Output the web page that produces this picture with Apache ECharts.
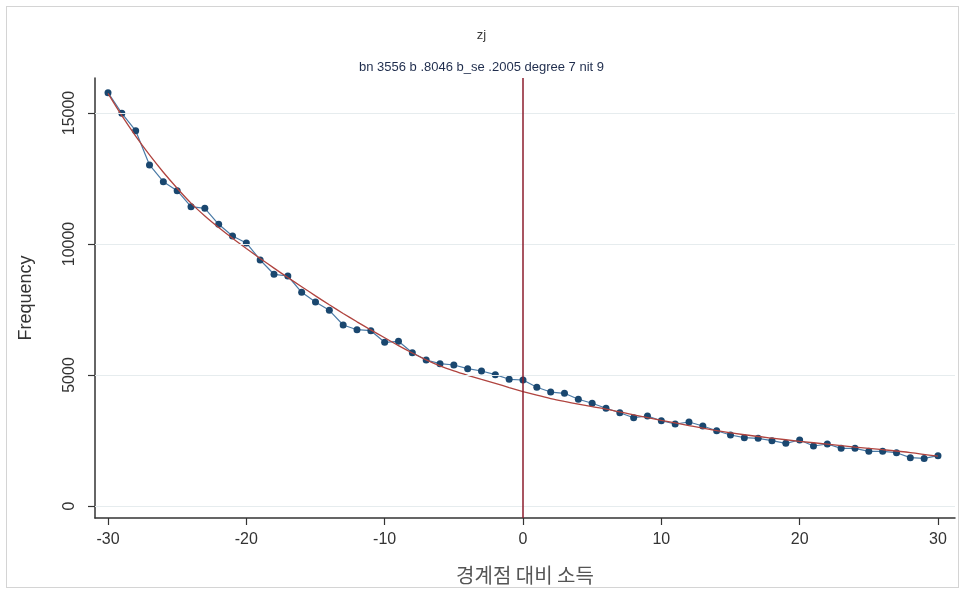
<!DOCTYPE html>
<html>
<head>
<meta charset="utf-8">
<script src="https://cdn.jsdelivr.net/npm/echarts@6/dist/echarts.min.js"></script>
<style>
html,body{margin:0;padding:0;background:#fff;}
#wrap{position:absolute;left:6px;top:6px;width:951px;height:580px;border:1px solid #d4d4d4;}
#chart{position:absolute;left:0;top:0;width:963px;height:592px;}
</style>
</head>
<body>
<div id="wrap"></div>
<div id="chart"></div>
<script>
// Bins (income relative to threshold)
const bins = [-30,-29,-28,-27,-26,-25,-24,-23,-22,-21,-20,-19,-18,-17,-16,-15,-14,-13,-12,-11,-10,-9,-8,-7,-6,-5,-4,-3,-2,-1,0,1,2,3,4,5,6,7,8,9,10,11,12,13,14,15,16,17,18,19,20,21,22,23,24,25,26,27,28,29,30];
// Observed frequency
const freq = [15776,14990,14326,13016,12379,12035,11425,11363,10752,10306,10040,9390,8844,8779,8157,7787,7470,6909,6729,6691,6248,6285,5852,5573,5432,5382,5241,5153,5012,4836,4809,4531,4350,4302,4073,3920,3729,3561,3370,3435,3256,3130,3206,3054,2874,2710,2607,2584,2492,2393,2519,2290,2367,2202,2202,2088,2088,2034,1844,1817,1920];
// Fitted polynomial curve
const fitX = [-30,-29,-28,-27,-26,-25,-24,-23,-22,-21,-20,-19,-18,-17,-16,-15,-14,-13,-12,-11,-10,-9,-8,-7,-6,-5,-4,-3,-2,-1,0,1,2,3,4,5,6,8,10,12,14,16,18,20,22,24,26,28,30];
const fitY = [15750,14900,14120,13400,12740,12130,11560,11070,10630,10220,9830,9450,9080,8720,8370,8020,7680,7350,7030,6720,6420,6120,5840,5580,5350,5160,4990,4830,4680,4520,4370,4230,4100,3990,3890,3790,3700,3480,3270,3070,2880,2720,2590,2470,2360,2250,2150,2040,1900];
const xTicks = [-30,-20,-10,0,10,20,30];
const yTicks = [0,5000,10000,15000];
const titleText = 'zj';
const subText = 'bn 3556 b .8046 b_se .2005 degree 7 nit 9';
const xName = '경계점 대비 소득';
const yName = 'Frequency';

const chart = echarts.init(document.getElementById('chart'), null, {renderer:'canvas'});
const font = 'Liberation Sans, Arial, sans-serif';
chart.setOption({
  backgroundColor: 'transparent',
  animation: false,
  title: [
    {text: titleText, left: 'center', top: 24, textStyle:{fontFamily:font, fontSize:13, fontWeight:'normal', color:'#3a3a3a'}},
    {text: subText, left: 'center', top: 56, textStyle:{fontFamily:font, fontSize:13, fontWeight:'normal', color:'#1f2d4d'}}
  ],
  grid: {left:95, right:8, top:78, bottom:74, containLabel:false},
  xAxis: {
    type:'value', min:-30.94, max:31.23,
    name: xName, nameLocation:'middle', nameGap:47,
    nameTextStyle:{fontFamily:'Noto Sans CJK KR', fontSize:20, color:'#555'},
    axisLine:{onZero:false, lineStyle:{color:'#333', width:1.5}},
    axisTick:{show:true, length:7, customValues:xTicks, lineStyle:{color:'#333', width:1.2}},
    axisLabel:{customValues:xTicks, margin:14, fontFamily:font, fontSize:16, color:'#333'},
    splitLine:{show:false}
  },
  yAxis: {
    type:'value', min:-458, max:16336,
    name: yName, nameLocation:'middle', nameGap:60,
    nameTextStyle:{fontFamily:font, fontSize:18, color:'#333'},
    axisLine:{onZero:false, lineStyle:{color:'#333', width:1.5}},
    axisTick:{show:true, length:7, customValues:yTicks, lineStyle:{color:'#333', width:1.2}},
    axisLabel:{customValues:yTicks, rotate:90, margin:17, fontFamily:font, fontSize:16, color:'#333',
      formatter: v => String(Math.round(v))},
    splitLine:{show:false}
  },
  series: [
    {
      type:'line', data:[], z:1, silent:true,
      markLine:{silent:true, symbol:'none', label:{show:false},
        lineStyle:{color:'#e6ecee', width:1, type:'solid'},
        data: yTicks.map(v => ({yAxis:v}))}
    },
    {
      name:'freq', type:'line', z:3,
      data: bins.map((b,i)=>[b,freq[i]]),
      symbol:'circle', symbolSize:7,
      itemStyle:{color:'#1a476f'},
      lineStyle:{color:'#4a7aa6', width:1.2}
    },
    {
      name:'fit', type:'line', z:4, smooth:0.3,
      data: fitX.map((b,i)=>[b,fitY[i]]),
      symbol:'none',
      lineStyle:{color:'#b0443f', width:1.3}
    },
    {
      type:'line', data:[], z:5, silent:true,
      markLine:{silent:true, symbol:'none', label:{show:false},
        lineStyle:{color:'#8c1c2c', width:1.5, type:'solid'},
        data:[{xAxis:0}]}
    }
  ]
});
</script>
</body>
</html>
